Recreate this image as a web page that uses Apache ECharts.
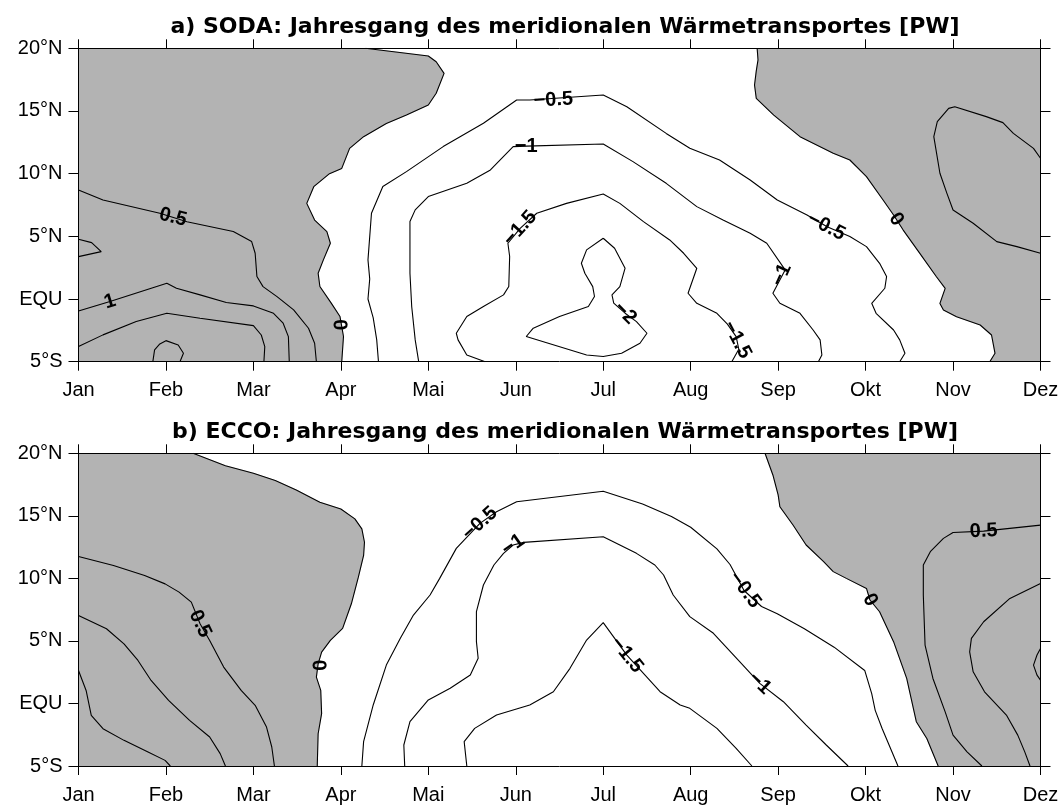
<!DOCTYPE html>
<html><head><meta charset="utf-8">
<script src="https://cdn.jsdelivr.net/npm/echarts@6/dist/echarts.min.js"></script>
<style>html,body{margin:0;padding:0;background:#fff}#c{width:1062px;height:805px}</style>
</head><body><div id="c"></div>
<script>
// ---------- tick labels ----------
const monthNames = ["Jan","Feb","Mar","Apr","Mai","Jun","Jul","Aug","Sep","Okt","Nov","Dez"];
const latValues = [-5, 0, 5, 10, 15, 20];
const latNames = ["5°S", "EQU", "5°N", "10°N", "15°N", "20°N"];
const titleA = "a) SODA: Jahresgang des meridionalen Wärmetransportes [PW]";
const titleB = "b) ECCO: Jahresgang des meridionalen Wärmetransportes [PW]";

// ---------- panel a (SODA) contour lines: [month index, latitude] ----------
const sodaZeroLeft = [[3.28,20],[4.0,19.39],[4.09,18.93],[4.18,18.0],[4.09,16.41],[4.0,15.48],[3.75,14.67],[3.52,14.0],[3.26,12.95],[3.10,12.02],[3.01,10.42],[2.87,10.0],[2.69,8.96],[2.61,7.63],[2.70,6.3],[2.84,5.38],[2.88,4.45],[2.80,3.12],[2.74,2.06],[2.76,1.0],[2.89,-0.33],[2.99,-1.4],[3.03,-2.99],[3.01,-5]];
const sodaZeroRight = [[7.76,20],[7.77,19.07],[7.75,18.2],[7.73,17.07],[7.75,16.0],[7.95,14.67],[8.25,12.95],[8.63,11.62],[8.82,11.09],[9.01,9.76],[9.20,7.9],[9.32,6.7],[9.43,5.5],[9.62,3.64],[9.81,1.78],[9.91,0.85],[9.85,-0.35],[9.89,-0.88],[10.04,-1.41],[10.31,-2.07],[10.44,-2.87],[10.48,-4.33],[10.42,-5]];
const sodaPos05Right = [[11,11.23],[10.92,12.02],[10.69,13.21],[10.57,14.07],[10.38,14.55],[10.02,15.34],[9.95,15.21],[9.82,14.15],[9.78,12.95],[9.85,10.03],[9.93,8.43],[10.0,7.1],[10.23,6.04],[10.5,4.58],[10.73,4.18],[11,3.65]];
const sodaPos05Left = [[0,8.7],[0.28,7.9],[0.93,6.84],[1.24,6.17],[1.77,5.38],[1.98,4.58],[2.02,3.65],[2.04,1.79],[2.11,0.99],[2.27,0.19],[2.46,-0.87],[2.63,-2.33],[2.70,-3.53],[2.72,-5]];
const sodaSmallLeft = [[0,4.77],[0.15,4.5],[0.26,3.78],[0,3.38]];
const sodaPos1 = [[0,-0.95],[0.36,-0.2],[1.01,1.26],[1.12,0.86],[1.39,0.33],[1.69,-0.28],[2.0,-0.55],[2.23,-1.14],[2.34,-1.93],[2.40,-3.0],[2.41,-5]];
const sodaPos15 = [[0,-3.79],[0.28,-2.86],[0.66,-1.8],[1.01,-1.14],[1.39,-1.54],[2.0,-2.12],[2.09,-2.87],[2.13,-3.8],[2.12,-5]];
const sodaPos2 = [[0.85,-5],[0.87,-4.06],[0.93,-3.58],[1.0,-3.32],[1.14,-3.67],[1.2,-4.33],[1.16,-5]];
const sodaNeg05 = [[3.43,-5],[3.41,-3.26],[3.37,-1.5],[3.31,0.0],[3.33,1.6],[3.31,3.12],[3.33,4.98],[3.35,6.84],[3.48,8.97],[3.75,10.16],[4.17,12.16],[4.63,14.02],[5.01,15.88],[5.16,15.88],[6.0,16.28],[6.27,15.34],[6.72,13.21],[6.99,12.02],[7.33,11.09],[7.68,9.49],[7.99,7.9],[8.33,6.7],[8.56,5.77],[8.82,4.98],[9.01,4.18],[9.16,2.85],[9.24,1.79],[9.22,0.86],[9.07,-0.34],[9.12,-1.14],[9.32,-2.47],[9.39,-3.26],[9.45,-4.33],[9.39,-5]];
const sodaNeg1 = [[3.89,-5],[3.85,-3.26],[3.81,-0.6],[3.79,2.06],[3.79,4.19],[3.79,6.18],[3.85,7.11],[4.0,8.17],[4.44,9.24],[4.71,10.3],[4.97,12.16],[5.12,12.2],[6.0,12.37],[6.34,10.96],[6.72,9.23],[7.07,7.37],[7.37,6.31],[7.68,5.24],[7.87,4.45],[8.08,2.32],[8.0,1.26],[7.94,0.46],[8.02,-0.34],[8.25,-1.14],[8.40,-2.47],[8.48,-3.26],[8.50,-4.46],[8.46,-5]];
const sodaNeg15 = [[4.65,-5],[4.44,-4.46],[4.34,-3.26],[4.32,-2.73],[4.44,-1.4],[4.63,-0.6],[4.86,0.33],[4.92,1.0],[4.93,3.39],[4.91,4.45],[5.05,5.64],[5.24,6.84],[5.58,7.63],[6.0,8.38],[6.19,7.63],[6.46,6.17],[6.76,4.71],[6.92,3.65],[7.07,2.45],[6.97,0.46],[7.07,-0.34],[7.30,-1.14],[7.42,-2.0],[7.52,-3.0],[7.55,-4.0],[7.47,-5]];
const sodaNeg2 = [[6.0,4.85],[6.13,4.05],[6.25,2.46],[6.19,0.99],[6.10,0.33],[6.12,-0.33],[6.25,-1.13],[6.38,-1.8],[6.50,-2.73],[6.42,-3.53],[6.21,-4.33],[6.0,-4.59],[5.81,-4.46],[5.12,-2.99],[5.20,-2.33],[5.50,-1.40],[5.83,-0.6],[5.90,0.2],[5.88,0.99],[5.79,2.06],[5.75,2.85],[5.81,3.92],[6.0,4.85]];
// contour labels: positions [month, latitude], texts, text angles (degrees)
const sodaLabelPos = [[1.08,6.52],[0.36,-0.2],[2.98,-2.07],[5.43,15.88],[5.12,12.2],[5.05,5.64],[6.25,-1.13],[7.53,-3.26],[8.04,1.92],[8.55,5.78],[9.35,6.36]];
const sodaLabelText = ["0.5","1","0","−0.5","−1","−1.5","−2","−1.5","−1","−0.5","0"];
const sodaLabelAngle = [-14,17,-88,3,0,48,-45,-62,66,-27,-55];

// ---------- panel b (ECCO) ----------
const eccoZeroLeft = [[1.31,20],[1.68,19.01],[2.0,18.4],[2.25,17.82],[2.49,17.07],[2.76,16.09],[3.0,15.55],[3.16,14.76],[3.24,13.96],[3.27,12.89],[3.26,11.83],[3.20,10.1],[3.12,7.97],[3.02,6.0],[2.88,5.04],[2.78,4.11],[2.74,3.17],[2.72,2.11],[2.77,1.04],[2.78,-0.82],[2.74,-2.42],[2.73,-5]];
const eccoZeroRight = [[7.85,20],[7.94,18.27],[8.0,16.67],[8.02,15.73],[8.17,14.27],[8.32,12.67],[8.52,11.34],[8.63,10.54],[8.78,10.0],[9.01,9.2],[9.05,8.27],[9.16,7.33],[9.32,4.94],[9.47,2.01],[9.58,-1.46],[9.70,-2.8],[9.83,-5]];
const eccoPos05Right = [[11,14.26],[10.35,13.78],[10.0,13.67],[9.89,13.2],[9.74,12.13],[9.66,11.07],[9.66,8.67],[9.68,4.67],[9.77,2.0],[9.91,-0.67],[10.0,-2.53],[10.16,-3.87],[10.33,-5]];
const eccoPos1Right = [[11,9.6],[10.65,8.4],[10.35,6.53],[10.21,5.2],[10.19,4.13],[10.23,2.53],[10.36,0.93],[10.61,-0.93],[10.74,-2.53],[10.82,-3.87],[10.88,-5]];
const eccoPos15Right = [[11,4.4],[10.96,3.87],[10.92,3.07],[10.96,2.27],[11,1.87]];
const eccoPos05Left = [[0,11.75],[0.40,11.03],[0.756,10.23],[0.99,9.56],[1.15,8.9],[1.29,8.1],[1.39,6.37],[1.50,5.04],[1.66,2.91],[1.86,1.04],[2.02,-0.15],[2.15,-1.89],[2.21,-3.48],[2.24,-5]];
const eccoPos1Left = [[0,7.03],[0.32,5.97],[0.52,4.77],[0.68,3.44],[0.83,1.84],[1.03,0.25],[1.27,-1.35],[1.50,-2.68],[1.62,-4.01],[1.68,-5]];
const eccoPos15Left = [[0,2.64],[0.087,1.04],[0.146,-0.95],[0.28,-2.02],[0.52,-2.95],[0.795,-3.88],[0.99,-4.55],[1.05,-5]];
const eccoNeg05 = [[3.24,-5],[3.26,-3.05],[3.37,-0.12],[3.52,3.07],[3.68,5.21],[3.83,7.07],[4.02,8.67],[4.13,10.0],[4.32,12.4],[4.59,14.4],[4.78,15.33],[5.01,16.13],[6.0,16.96],[6.45,15.95],[6.78,14.94],[7.0,14.09],[7.30,12.36],[7.45,11.11],[7.61,9.03],[7.81,7.75],[7.99,7.17],[8.30,5.97],[8.64,4.5],[8.99,2.64],[9.07,0.78],[9.11,-0.55],[9.19,-2.02],[9.37,-5]];
const eccoNeg1 = [[3.73,-5],[3.72,-3.32],[3.79,-1.45],[4.0,0.28],[4.25,1.21],[4.48,2.27],[4.57,3.61],[4.55,4.94],[4.55,7.34],[4.63,9.47],[4.75,11.07],[4.86,12.0],[4.97,12.67],[5.09,12.88],[6.0,13.33],[6.38,12.0],[6.59,11.07],[6.69,10.27],[6.80,8.67],[6.99,6.94],[7.26,5.61],[7.56,3.34],[7.79,1.61],[8.06,0.14],[8.32,-1.73],[8.55,-3.32],[8.80,-5]];
const eccoNeg15 = [[4.44,-5],[4.41,-3.05],[4.53,-1.99],[4.78,-0.92],[5.16,-0.12],[5.43,0.94],[5.62,2.81],[5.81,5.07],[6.0,6.46],[6.27,3.87],[6.65,0.94],[6.88,-0.12],[6.99,-0.39],[7.30,-1.99],[7.52,-3.59],[7.70,-5]];
const eccoLabelPos = [[1.39,6.37],[2.74,3.04],[4.59,14.4],[4.97,12.67],[6.27,3.87],[7.62,9.07],[9.05,8.27],[7.79,1.61],[10.35,13.78]];
const eccoLabelText = ["0.5","0","−0.5","−1","−1.5","−0.5","0","−1","0.5"];
const eccoLabelAngle = [-64,-88,42,35,-51,-53,-60,-43,3];

// ---------- build chart ----------
const FONT = '"Liberation Sans", Arial, Helvetica, sans-serif';
const TITLE_FONT = '"DejaVu Sans", "Liberation Sans", Arial, sans-serif';
const GRAY = '#b3b3b3';
const XMIN = 0, XMAX = 11, YMIN = -5, YMAX = 20;

const panels = [
  { title: titleA, grid: {left: 78.5, top: 48.3, width: 962, height: 313.4}, titleTop: 11,
    grayLeft: sodaZeroLeft, grayRight: sodaZeroRight,
    lines: [sodaZeroLeft, sodaZeroRight, sodaPos05Right, sodaPos05Left, sodaSmallLeft, sodaPos1, sodaPos15, sodaPos2, sodaNeg05, sodaNeg1, sodaNeg15, sodaNeg2],
    lpos: sodaLabelPos, ltext: sodaLabelText, langle: sodaLabelAngle },
  { title: titleB, grid: {left: 78.5, top: 453.3, width: 962, height: 312.7}, titleTop: 416,
    grayLeft: eccoZeroLeft, grayRight: eccoZeroRight,
    lines: [eccoZeroLeft, eccoZeroRight, eccoPos05Right, eccoPos1Right, eccoPos15Right, eccoPos05Left, eccoPos1Left, eccoPos15Left, eccoNeg05, eccoNeg1, eccoNeg15],
    lpos: eccoLabelPos, ltext: eccoLabelText, langle: eccoLabelAngle }
];

const option = {
  animation: false,
  backgroundColor: '#ffffff',
  title: [], grid: [], xAxis: [], yAxis: [], series: []
};

const axisLineStyle = {color: '#000', width: 1};
panels.forEach((p, gi) => {
  option.title.push({ text: p.title, left: 560, top: p.titleTop, textAlign: 'center',
    textStyle: {fontFamily: TITLE_FONT, fontWeight: 'bold', fontSize: 22, color: '#000'} });
  option.grid.push(Object.assign({containLabel: false}, p.grid));
  const xBase = {type: 'value', gridIndex: gi, min: XMIN, max: XMAX, interval: 1, z: 10,
    splitLine: {show: false}, axisLine: {show: true, onZero: false, lineStyle: axisLineStyle},
    axisTick: {show: true, inside: false, length: 9, lineStyle: axisLineStyle}};
  option.xAxis.push(Object.assign({}, xBase, {position: 'bottom',
    axisLabel: {show: true, margin: 19, showMinLabel: true, showMaxLabel: true, fontFamily: FONT, fontSize: 20, color: '#000',
      formatter: v => monthNames[Math.round(v)] || ''}}));
  option.xAxis.push(Object.assign({}, xBase, {position: 'top', axisLabel: {show: false}}));
  const yBase = {type: 'value', gridIndex: gi, min: YMIN, max: YMAX, interval: 5, z: 10,
    splitLine: {show: false}, axisLine: {show: true, onZero: false, lineStyle: axisLineStyle},
    axisTick: {show: true, inside: false, length: 10, lineStyle: axisLineStyle}};
  option.yAxis.push(Object.assign({}, yBase, {position: 'left',
    axisLabel: {show: true, margin: 16, showMinLabel: true, showMaxLabel: true, fontFamily: FONT, fontSize: 20, color: '#000',
      formatter: v => { const i = latValues.indexOf(Math.round(v)); return i >= 0 ? latNames[i] : ''; }}}));
  option.yAxis.push(Object.assign({}, yBase, {position: 'right', axisLabel: {show: false}}));

  const xi = gi * 2, yi = gi * 2;
  const polys = [
    [[XMIN, YMAX]].concat(p.grayLeft).concat([[XMIN, YMIN]]),
    p.grayRight.concat([[XMAX, YMIN], [XMAX, YMAX]])
  ];
  polys.forEach(pts => {
    option.series.push({ type: 'custom', coordinateSystem: 'cartesian2d', xAxisIndex: xi, yAxisIndex: yi,
      z: 1, silent: true, clip: true, data: [[0, 0]],
      renderItem: (params, api) => ({ type: 'polygon', shape: {points: pts.map(q => api.coord(q))},
        style: {fill: GRAY, stroke: GRAY, lineWidth: 0.5} }) });
  });
  p.lines.forEach(l => {
    option.series.push({ type: 'line', xAxisIndex: xi, yAxisIndex: yi, data: l, showSymbol: false, symbol: 'none',
      silent: true, z: 3, lineStyle: {color: '#000', width: 1.1}, smooth: false });
  });
  option.series.push({ type: 'custom', coordinateSystem: 'cartesian2d', xAxisIndex: xi, yAxisIndex: yi,
    z: 5, silent: true, data: p.lpos,
    renderItem: (params, api) => {
      const i = params.dataIndex;
      const c = api.coord([api.value(0), api.value(1)]);
      return { type: 'text', x: c[0], y: c[1], rotation: p.langle[i] * Math.PI / 180,
        style: { text: p.ltext[i], fill: '#000', fontFamily: FONT, fontWeight: 'bold', fontSize: 20,
          align: 'center', verticalAlign: 'middle' } };
    } });
});

const chart = echarts.init(document.getElementById('c'), null, {renderer: 'canvas'});
chart.setOption(option);
</script></body></html>
